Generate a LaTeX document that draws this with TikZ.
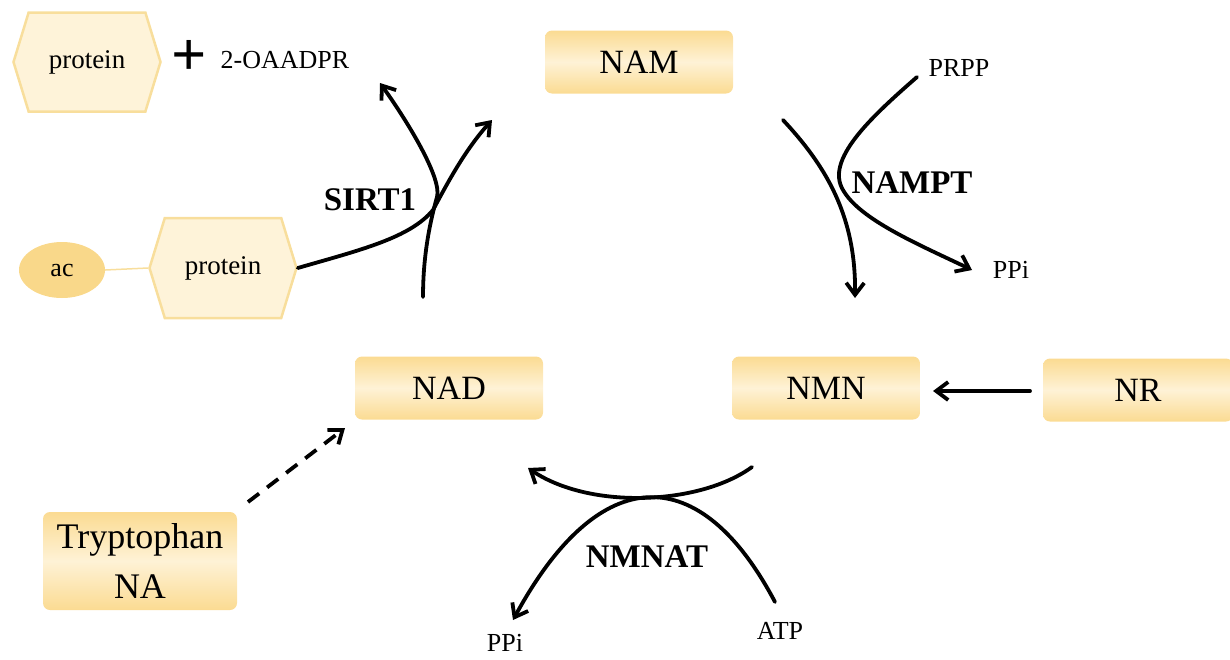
\documentclass[tikz,border=0pt]{standalone}
\usepackage{fontspec}
\setmainfont{Liberation Serif}
\usetikzlibrary{arrows.meta,shapes.geometric,shapes.symbols}
\definecolor{boxedge}{HTML}{FBDB92}
\definecolor{boxmid}{HTML}{FEF2D6}
\definecolor{hexfill}{HTML}{FEF3D9}
\definecolor{hexline}{HTML}{F8DE9C}
\definecolor{acfill}{HTML}{F9D88A}
\begin{document}
\begin{tikzpicture}[x=1pt,y=-1pt,
  metab/.style={rounded corners=7pt, minimum width=188pt, minimum height=63pt,
    top color=boxedge, bottom color=boxedge, middle color=boxmid, draw=none,
    font=\fontsize{34}{38}\selectfont, inner sep=0pt},
  hexa/.style={signal, signal to=east and west, signal pointer angle=146,
    fill=hexfill, draw=hexline, line width=2.5pt, minimum width=147pt,
    minimum height=99pt, inner sep=0pt, font=\fontsize{27}{30}\selectfont},
  small/.style={font=\fontsize{26}{30}\selectfont, inner sep=0pt},
  enz/.style={font=\fontsize{33}{36}\selectfont\bfseries, inner sep=0pt},
  rxn/.style={line width=3.8pt, line cap=round, -{Straight Barb[length=12pt,width=18pt,line width=3.8pt]}}]
\useasboundingbox (0,0) rectangle (1230,659);

% metabolite boxes
\node[metab] (NAM) at (639,62) {NAM};
\node[metab] (NAD) at (449,388) {NAD};
\node[metab] (NMN) at (826,388) {NMN};
\node[metab, minimum width=190pt] (NR) at (1138,390) {NR};
\node[metab, minimum width=194pt, minimum height=98pt, font=\fontsize{36}{50}\selectfont, align=center] (Trp) at (140,561) {Tryptophan\\NA};

% proteins
\node[hexa] (prot1) at (87,62) {protein};
\node[hexa, minimum height=100pt] (prot2) at (223,268) {protein};
\node[ellipse, fill=acfill, minimum width=86pt, minimum height=56pt, inner sep=0pt,
  font=\fontsize{26}{30}\selectfont] (ac) at (62,270) {ac};
\draw[hexline, line width=1.5pt] (ac.east) -- (prot2.west);

\node[font=\fontsize{62}{64}\selectfont\bfseries, inner sep=0pt] (plus) at (189,58) {+};
\node[small] (oaadpr) at (285,60) {2-OAADPR};

% SIRT1
\coordinate (s1) at (423,297);
\coordinate (s1e) at (380,83);
\coordinate (s2e) at (492,120);
\draw[rxn] (s1) .. controls (423,255) and (430,222) .. (437,197)
  .. controls (442,179) and (410,125) .. (s1e);
\draw[rxn] (prot2.east) .. controls (360,250) and (410,238) .. (433,210)
  .. controls (448,182) and (465,150) .. (s2e);
\node[enz] (sirt) at (370,200) {SIRT1};

% NAMPT
\coordinate (n1) at (783,120);
\coordinate (n1e) at (855,298);
\coordinate (p1) at (917,77);
\coordinate (p1e) at (972,270);
\draw[rxn] (n1) .. controls (825,165) and (856,215) .. (n1e);
\draw[rxn] (p1) .. controls (870,118) and (825,160) .. (843,190)
  .. controls (860,220) and (920,245) .. (p1e);
\node[enz] (nampt) at (912,183) {NAMPT};
\node[small] (prpp) at (959,68) {PRPP};
\node[small] (ppi1) at (1011,270) {PPi};

% NR -> NMN
\coordinate (nrs) at (1030,391);
\coordinate (nre) at (933,391);
\draw[rxn] (nrs) -- (nre);

% NMNAT
\coordinate (m1) at (752,467);
\coordinate (m1e) at (528,468);
\coordinate (a1) at (775,602);
\coordinate (a1e) at (513,620);
\draw[rxn] (m1) .. controls (700,505) and (590,510) .. (m1e);
\draw[rxn] (a1) .. controls (700,460) and (600,460) .. (a1e);
\node[enz] (nmnat) at (647,557) {NMNAT};
\node[small] (atp) at (780,631) {ATP};
\node[small] (ppi2) at (505,643) {PPi};

% Tryptophan -> NAD
\coordinate (d1) at (248,502);
\coordinate (d1e) at (345,428);
\draw[rxn, line cap=butt, dash pattern=on 14pt off 10pt] (d1) -- (d1e);
\end{tikzpicture}
\end{document}
